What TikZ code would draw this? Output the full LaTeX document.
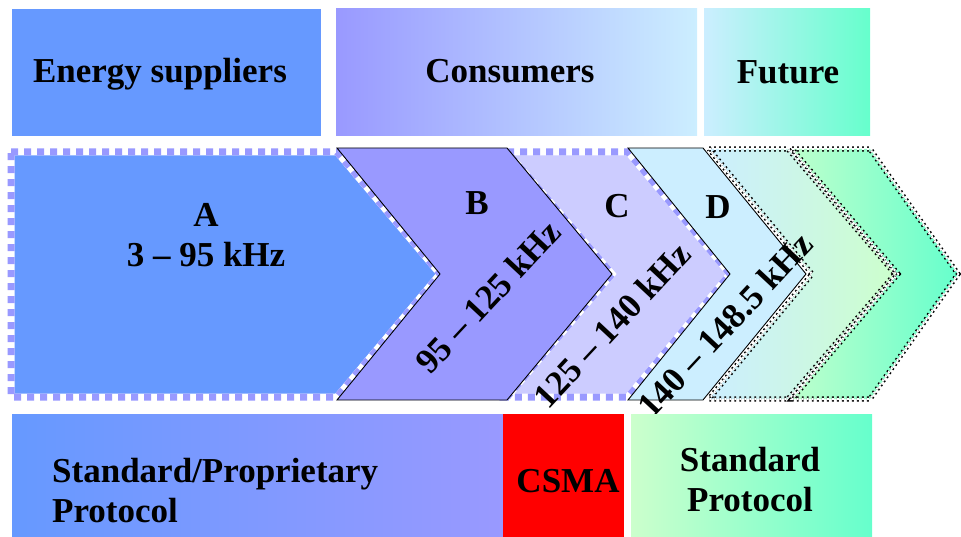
\documentclass[tikz,border=0pt]{standalone}
\usepackage{fontspec}
\setmainfont{Liberation Serif}
\definecolor{cblue}{HTML}{6699FF}
\definecolor{cviolet}{HTML}{9999FF}
\definecolor{clilac}{HTML}{CCCCFF}
\definecolor{csky}{HTML}{CCEEFF}
\definecolor{cmint}{HTML}{CCFFCC}
\definecolor{caqua}{HTML}{66FFCC}
\definecolor{cred}{HTML}{FF0000}
\begin{document}
\begin{tikzpicture}[x=1pt,y=-1pt,
  lbl/.style={font=\bfseries\fontsize{35}{40}\selectfont, inner sep=0pt, text=black},
  solidedge/.style={draw=black, line width=0.9pt, line join=miter},
  dashedge/.style={draw=white, line width=7pt, line join=miter,
     postaction={draw=cviolet, line width=7pt, dash pattern=on 7pt off 6pt}},
  dotedge/.style={draw=black, line width=1.5pt, double=white, double distance=2.2pt,
     dash pattern=on 1.8pt off 3.2pt, line join=miter}
]
\useasboundingbox (0,0) rectangle (961,537);

% top category boxes
\fill[cblue] (12,9) rectangle (321,136);
\shade[left color=cviolet, right color=csky] (336,9) rectangle (697,136);
\shade[left color=csky, right color=caqua] (704,9) rectangle (870,136);
\node[lbl, anchor=base] (esup) at (160,83) {Energy suppliers};
\node[lbl, anchor=base] (cons) at (510,83) {Consumers};
\node[lbl, anchor=base] (fut) at (788,84) {Future};

% band A
\path[fill=cblue, dashedge] (11,152) -- (337,152) -- (440,274) -- (337,397) -- (11,397) -- cycle;
% band C
\path[fill=clilac, dashedge] (507,152) -- (628,152) -- (730,274) -- (628,397) -- (507,397) -- (612,274) -- cycle;
% band B
\path[fill=cviolet, solidedge] (337,148) -- (507,148) -- (612,274) -- (507,400) -- (337,400) -- (440,274) -- cycle;
% band D
\path[fill=csky, solidedge] (628,148) -- (703,148) -- (806,274) -- (703,400) -- (628,400) -- (730,274) -- cycle;
% band E (future)
\shade[left color=csky, right color=cmint] (709,149) -- (788,149) -- (895,274) -- (788,399) -- (709,399) -- (812,274) -- cycle;
\draw[dotedge] (709,149) -- (788,149) -- (895,274) -- (788,399) -- (709,399) -- (812,274) -- cycle;
% band F (future)
\shade[left color=cmint!85!caqua, right color=caqua] (792,149) -- (870,149) -- (958,274) -- (870,399) -- (792,399) -- (898,274) -- cycle;
\draw[dotedge] (792,149) -- (870,149) -- (958,274) -- (870,399) -- (792,399) -- (898,274) -- cycle;

% band labels
\node[lbl, align=center] (la) at (206,235) {A\\3 -- 95 kHz};
\node[lbl, anchor=base] (lb) at (477,215) {B};
\node[lbl, anchor=base] (lc) at (617,218) {C};
\node[lbl, anchor=base] (ld) at (718,219) {D};
\node[lbl, rotate=47] (fb) at (488,297) {95 -- 125 kHz};
\node[lbl, rotate=47] (fc) at (612,325) {125 -- 140 kHz};
\node[lbl, rotate=47] (fd) at (725,325) {140 -- 148.5 kHz};

% bottom protocol boxes
\shade[left color=cblue, right color=cviolet] (12,414) rectangle (503,537);
\fill[cred] (503,414) rectangle (624,537);
\shade[left color=cmint, right color=caqua] (631,414) rectangle (872,537);
\node[lbl, align=left, anchor=north west] (psp) at (52,458) {Standard/Proprietary\\Protocol};
\node[lbl, anchor=base] (pcs) at (568,492) {CSMA};
\node[lbl, align=center] (pst) at (750,480) {Standard\\Protocol};
\end{tikzpicture}
\end{document}
